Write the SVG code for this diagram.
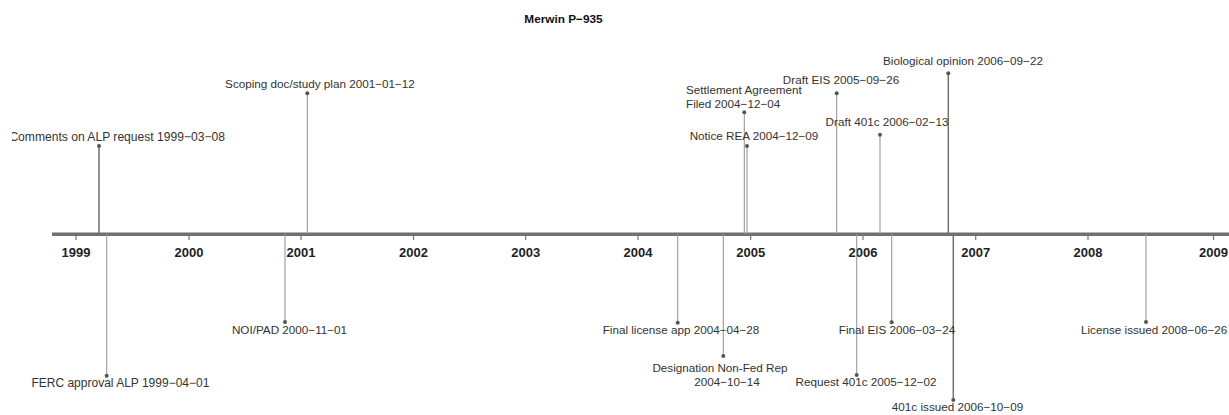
<svg xmlns="http://www.w3.org/2000/svg" width="1229" height="415" viewBox="0 0 1229 415">
<style>
  .lbl { font-family: "Liberation Sans", Arial, sans-serif; font-size: 11.7px; fill: #333; }
  .mid { text-anchor: middle; }
  .yr { font-family: "Liberation Sans", Arial, sans-serif; font-size: 13px; font-weight: bold; fill: #222; text-anchor: middle; }
  .title { font-family: "Liberation Sans", Arial, sans-serif; font-size: 11.8px; font-weight: bold; fill: #111; text-anchor: middle; }
  .stem { stroke: #9a9a9a; stroke-width: 1.1; fill: none; }
  .stem.dk { stroke: #707070; stroke-width: 1.5; }
  .dot { fill: #555; }
  .tick { stroke: #777; stroke-width: 1.2; }
</style>
<defs>
  <clipPath id="plotclip"><rect x="12" y="0" width="1217" height="415"/></clipPath>
</defs>
<rect width="1229" height="415" fill="#fff"/>
<text class="title" x="563.5" y="23">Merwin P−935</text>

<g id="axis">
  <line x1="52" y1="234.3" x2="1229" y2="234.3" stroke="#707070" stroke-width="3.6"/>
  <line class="tick" x1="76" y1="236" x2="76" y2="240"/>
  <line class="tick" x1="189" y1="236" x2="189" y2="240"/>
  <line class="tick" x1="301" y1="236" x2="301" y2="240"/>
  <line class="tick" x1="413.5" y1="236" x2="413.5" y2="240"/>
  <line class="tick" x1="525.7" y1="236" x2="525.7" y2="240"/>
  <line class="tick" x1="638" y1="236" x2="638" y2="240"/>
  <line class="tick" x1="750.7" y1="236" x2="750.7" y2="240"/>
  <line class="tick" x1="863" y1="236" x2="863" y2="240"/>
  <line class="tick" x1="975.7" y1="236" x2="975.7" y2="240"/>
  <line class="tick" x1="1088" y1="236" x2="1088" y2="240"/>
  <line class="tick" x1="1213.5" y1="236" x2="1213.5" y2="240"/>
  <text class="yr" x="76" y="257">1999</text>
  <text class="yr" x="189" y="257">2000</text>
  <text class="yr" x="301" y="257">2001</text>
  <text class="yr" x="413.5" y="257">2002</text>
  <text class="yr" x="525.7" y="257">2003</text>
  <text class="yr" x="638" y="257">2004</text>
  <text class="yr" x="750.7" y="257">2005</text>
  <text class="yr" x="863" y="257">2006</text>
  <text class="yr" x="975.7" y="257">2007</text>
  <text class="yr" x="1088" y="257">2008</text>
  <text class="yr" x="1213.5" y="257">2009</text>
</g>

<g id="connectors">
  <line class="stem dk" x1="99" y1="234" x2="99" y2="146"/>
  <line class="stem" x1="307.3" y1="234" x2="307.3" y2="93.3"/>
  <line class="stem" x1="744.3" y1="234" x2="744.3" y2="112.3"/>
  <line class="stem" x1="747" y1="234" x2="747" y2="146"/>
  <line class="stem" x1="836.7" y1="234" x2="836.7" y2="93.3"/>
  <line class="stem" x1="880" y1="234" x2="880" y2="134.7"/>
  <line class="stem dk" x1="948.3" y1="234" x2="948.3" y2="73.3"/>
  <line class="stem" x1="106.7" y1="234" x2="106.7" y2="375.7"/>
  <line class="stem" x1="285" y1="234" x2="285" y2="322"/>
  <line class="stem" x1="677.7" y1="234" x2="677.7" y2="322.7"/>
  <line class="stem" x1="723.3" y1="234" x2="723.3" y2="356"/>
  <line class="stem" x1="856.7" y1="234" x2="856.7" y2="375"/>
  <line class="stem" x1="891.7" y1="234" x2="891.7" y2="322.3"/>
  <line class="stem dk" x1="953.3" y1="234" x2="953.3" y2="400"/>
  <line class="stem" x1="1146" y1="234" x2="1146" y2="322"/>
</g>

<g id="ev-comments-alp">
  <circle class="dot" cx="99" cy="146" r="2"/>
  <text class="lbl" x="225" y="141" text-anchor="end" style="font-size:12.1px" clip-path="url(#plotclip)">Comments on ALP request 1999−03−08</text>
</g>
<g id="ev-scoping">
  <circle class="dot" cx="307.3" cy="93.3" r="2"/>
  <text class="lbl mid" x="320" y="88">Scoping doc/study plan 2001−01−12</text>
</g>
<g id="ev-settlement">
  <circle class="dot" cx="744.3" cy="112.3" r="2"/>
  <text class="lbl" x="686" y="94.3">Settlement Agreement</text>
  <text class="lbl" x="686" y="108.3">Filed 2004−12−04</text>
</g>
<g id="ev-notice-rea">
  <circle class="dot" cx="747" cy="146" r="2"/>
  <text class="lbl mid" x="754" y="140">Notice REA 2004−12−09</text>
</g>
<g id="ev-draft-eis">
  <circle class="dot" cx="836.7" cy="93.3" r="2"/>
  <text class="lbl mid" x="841" y="84">Draft EIS 2005−09−26</text>
</g>
<g id="ev-draft-401c">
  <circle class="dot" cx="880" cy="134.7" r="2"/>
  <text class="lbl mid" x="887" y="126">Draft 401c 2006−02−13</text>
</g>
<g id="ev-bio-opinion">
  <circle class="dot" cx="948.3" cy="73.3" r="2"/>
  <text class="lbl mid" x="963" y="65">Biological opinion 2006−09−22</text>
</g>
<g id="ev-ferc-approval">
  <circle class="dot" cx="106.7" cy="375.7" r="2"/>
  <text class="lbl mid" x="120.4" y="387" style="font-size:12px">FERC approval ALP 1999−04−01</text>
</g>
<g id="ev-noi-pad">
  <circle class="dot" cx="285" cy="322" r="2"/>
  <text class="lbl mid" x="289.5" y="334">NOI/PAD 2000−11−01</text>
</g>
<g id="ev-final-license-app">
  <circle class="dot" cx="677.7" cy="322.7" r="2"/>
  <text class="lbl mid" x="681" y="334">Final license app 2004−04−28</text>
</g>
<g id="ev-designation">
  <circle class="dot" cx="723.3" cy="356" r="2"/>
  <text class="lbl mid" x="720" y="372">Designation Non-Fed Rep</text>
  <text class="lbl mid" x="727" y="386">2004−10−14</text>
</g>
<g id="ev-request-401c">
  <circle class="dot" cx="856.7" cy="375" r="2"/>
  <text class="lbl mid" x="866" y="386">Request 401c 2005−12−02</text>
</g>
<g id="ev-final-eis">
  <circle class="dot" cx="891.7" cy="322.3" r="2"/>
  <text class="lbl mid" x="897" y="334">Final EIS 2006−03−24</text>
</g>
<g id="ev-401c-issued">
  <circle class="dot" cx="953.3" cy="400" r="2"/>
  <text class="lbl mid" x="957.5" y="411">401c issued 2006−10−09</text>
</g>
<g id="ev-license-issued">
  <circle class="dot" cx="1146" cy="322" r="2"/>
  <text class="lbl" x="1081" y="334">License issued 2008−06−26</text>
</g>
</svg>
